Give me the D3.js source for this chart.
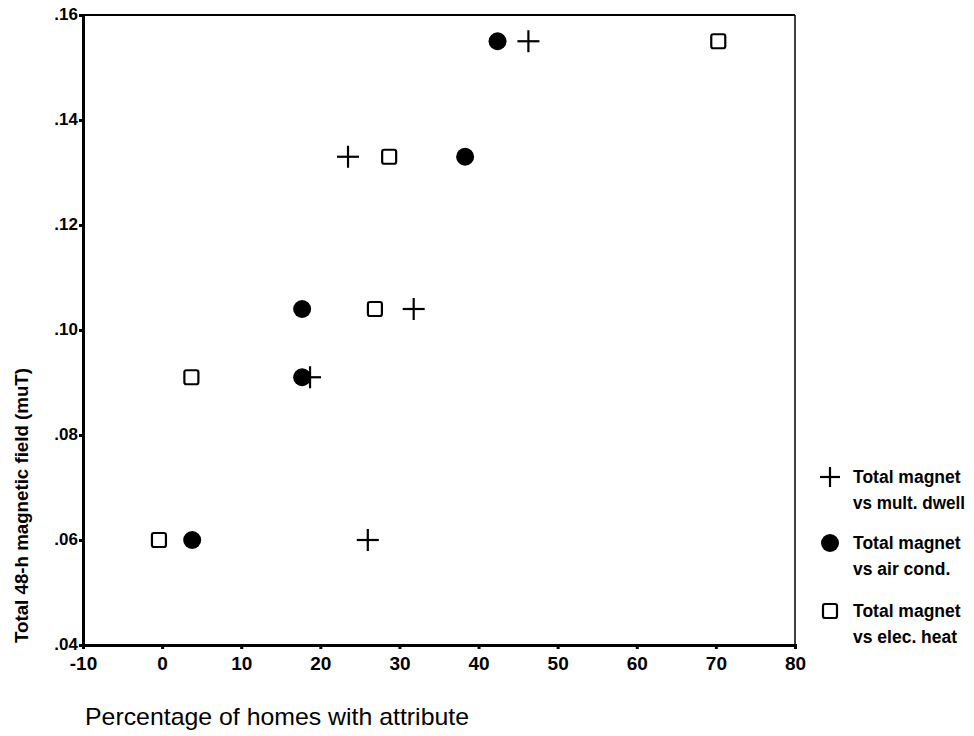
<!DOCTYPE html>
<html>
  <head>
    <meta charset="utf-8">
    <script src="https://d3js.org/d3.v7.min.js"></script>
    <style>
      body { margin: 0; background: #fff; }
      text { font-family: "Liberation Sans", Arial, sans-serif; fill: #000; }
    </style>
  </head>
  <body>
    <div id="chart"></div>
    <script>
      // y values shared by all three series
      var fieldValues = [0.155, 0.133, 0.104, 0.091, 0.060];
      // x values per series
      var multDwell = [46.3, 23.5, 31.8, 18.7, 26.0];
      var airCond = [42.4, 38.3, 17.7, 17.7, 3.8];
      var elecHeat = [70.3, 28.7, 26.9, 3.7, -0.4];
      var xTicks = [-10, 0, 10, 20, 30, 40, 50, 60, 70, 80];
      var yTicks = [0.04, 0.06, 0.08, 0.10, 0.12, 0.14, 0.16];
      var seriesNames = [
        ["Total magnet", "vs mult. dwell"],
        ["Total magnet", "vs air cond."],
        ["Total magnet", "vs elec. heat"]
      ];

      var svg = d3.select('#chart').append('svg')
        .attr('width', 974).attr('height', 736);

      var x = d3.scaleLinear().domain([-10, 80]).range([83, 795]);
      var y = d3.scaleLinear().domain([0.04, 0.16]).range([645, 15]);

      // frame
      svg.append('line').attr('x1', 83).attr('x2', 795).attr('y1', 15).attr('y2', 15)
        .attr('stroke', '#000').attr('stroke-width', 2);
      svg.append('line').attr('x1', 795).attr('x2', 795).attr('y1', 15).attr('y2', 645)
        .attr('stroke', '#000').attr('stroke-width', 1.5);

      var xAxis = svg.append('g').attr('transform', 'translate(0,645)')
        .call(d3.axisBottom(x).tickValues(xTicks).tickSize(4).tickPadding(8)
          .tickFormat(function (d) { return String(d); }));
      var yAxis = svg.append('g').attr('transform', 'translate(83,0)')
        .call(d3.axisLeft(y).tickValues(yTicks).tickSize(4).tickPadding(1)
          .tickFormat(function (d) { return d3.format('.2f')(d).replace(/^0/, ''); }));

      [xAxis, yAxis].forEach(function (a) {
        a.attr('font-size', null).attr('font-family', null);
        a.select('.domain').attr('stroke-width', 3);
        a.selectAll('.tick line').attr('stroke-width', 3);
        a.selectAll('text').style('font-weight', 'bold');
      });
      xAxis.selectAll('text').style('font-size', '19px');
      yAxis.selectAll('text').style('font-size', '17px').attr('dy', '0.25em');

      // markers
      function plus(g, cx, cy, s) {
        g.append('line').attr('x1', cx - s).attr('x2', cx + s).attr('y1', cy).attr('y2', cy)
          .attr('stroke', '#000').attr('stroke-width', 2.2);
        g.append('line').attr('x1', cx).attr('x2', cx).attr('y1', cy - s).attr('y2', cy + s)
          .attr('stroke', '#000').attr('stroke-width', 2.2);
      }
      function dot(g, cx, cy) {
        g.append('circle').attr('cx', cx).attr('cy', cy).attr('r', 9).attr('fill', '#000');
      }
      function square(g, cx, cy) {
        g.append('rect').attr('x', cx - 7).attr('y', cy - 7).attr('width', 14).attr('height', 14)
          .attr('rx', 2).attr('fill', '#fff').attr('stroke', '#000').attr('stroke-width', 2.2);
      }

      var marks = svg.append('g');
      elecHeat.forEach(function (v, i) { square(marks, x(v), y(fieldValues[i])); });
      airCond.forEach(function (v, i) { dot(marks, x(v), y(fieldValues[i])); });
      multDwell.forEach(function (v, i) { plus(marks, x(v), y(fieldValues[i]), 11); });

      // legend
      var drawers = [
        function (g, cx, cy) { plus(g, cx, cy, 10); },
        dot,
        square
      ];
      var legendY = [477, 543, 611];
      var legend = svg.append('g');
      seriesNames.forEach(function (n, i) {
        drawers[i](legend, 830, legendY[i]);
        legend.append('text').attr('x', 853).attr('y', legendY[i] + 6)
          .style('font-size', '17.5px').style('font-weight', 'bold').text(n[0]);
        var t2 = legend.append('text').attr('x', 853).attr('y', legendY[i] + 32)
          .style('font-size', '17.5px').style('font-weight', 'bold').text(n[1]);
        if (t2.node().getComputedTextLength() > 112) {
          t2.attr('textLength', 112).attr('lengthAdjust', 'spacingAndGlyphs');
        }
      });

      // axis titles
      svg.append('text').attr('x', 85).attr('y', 725)
        .attr('textLength', 384).attr('lengthAdjust', 'spacingAndGlyphs')
        .style('font-size', '24px').text('Percentage of homes with attribute');
      svg.append('text')
        .attr('transform', 'translate(28,643) rotate(-90)')
        .attr('textLength', 275).attr('lengthAdjust', 'spacingAndGlyphs')
        .style('font-size', '18px').style('font-weight', 'bold')
        .text('Total 48-h magnetic field (muT)');
    </script>
  </body>
</html>
